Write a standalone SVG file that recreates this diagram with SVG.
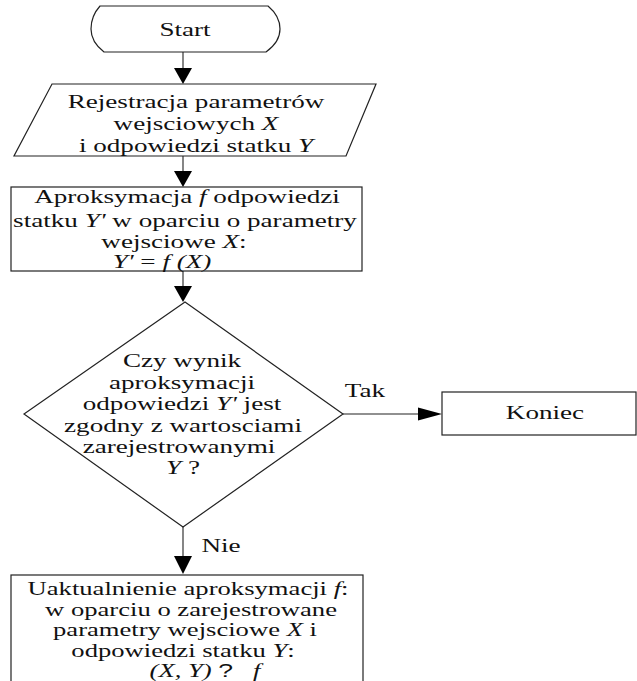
<svg xmlns="http://www.w3.org/2000/svg" width="637" height="681" viewBox="0 0 637 681">
<defs>
<style>
.s{fill:#fff;stroke:#222;stroke-width:1.2}
.c{stroke:#222;stroke-width:1.1;fill:none}
.h{fill:#000}
text{font-family:"Liberation Serif","Times New Roman",serif;font-size:19.5px;fill:#111;text-anchor:middle}
.b{font-size:18.5px}
.i{font-style:italic}
.q{font-family:"Liberation Sans",Arial,sans-serif}
</style>
</defs>
<rect width="637" height="681" fill="#fff"/>
<g id="connectors">
<line class="c" x1="183" y1="52" x2="183" y2="70"/>
<polygon class="h" points="174,68 192,68 183,84"/>
<line class="c" x1="183" y1="156" x2="183" y2="173"/>
<polygon class="h" points="174,171 192,171 183,187"/>
<line class="c" x1="183" y1="271" x2="183" y2="288"/>
<polygon class="h" points="174,286 192,286 183,302"/>
<line class="c" x1="343" y1="414" x2="420" y2="414"/>
<polygon class="h" points="418,407.5 418,420.5 442,414"/>
<line class="c" x1="183" y1="527" x2="183" y2="558"/>
<polygon class="h" points="174,556 192,556 183,574"/>
<text transform="translate(365,397) scale(1.39,1)">Tak</text>
<text transform="translate(221,552) scale(1.39,1)">Nie</text>
</g>
<g id="start">
<path class="s" d="M100,6 L268,6 Q280,16 280,29 Q280,42 266,52 L104,52 Q91,42 91,29 Q91,16 100,6 Z"/>
<text transform="translate(185,36) scale(1.39,1)">Start</text>
</g>
<g id="rejestracja">
<polygon class="s" points="52,84 376,84 346,156 14,156"/>
<text transform="translate(196,108) scale(1.39,1)">Rejestracja parametrów</text>
<text transform="translate(196,130) scale(1.39,1)">wejsciowych <tspan class="i">X</tspan></text>
<text transform="translate(196,152) scale(1.39,1)">i odpowiedzi statku <tspan class="i">Y</tspan></text>
</g>
<g id="aproksymacja">
<rect class="s" x="11" y="187" width="351" height="84"/>
<text transform="translate(187,203) scale(1.39,1)">Aproksymacja <tspan class="i">f</tspan> odpowiedzi</text>
<text transform="translate(185,227) scale(1.39,1)">statku <tspan class="i">Y'</tspan> w oparciu o parametry</text>
<text transform="translate(174,248) scale(1.39,1)">wejsciowe <tspan class="i">X</tspan>:</text>
<text transform="translate(162,268) scale(1.39,1)"><tspan class="i">Y'</tspan> = <tspan class="i">f (X)</tspan></text>
</g>
<g id="decyzja">
<polygon class="s" points="185,302 343,414 183,527 24,414"/>
<text transform="translate(182,367) scale(1.39,1)">Czy wynik</text>
<text transform="translate(182,389) scale(1.39,1)">aproksymacji</text>
<text transform="translate(182,410) scale(1.39,1)">odpowiedzi <tspan class="i">Y'</tspan> jest</text>
<text transform="translate(183,432) scale(1.39,1)">zgodny z wartosciami</text>
<text transform="translate(179,453) scale(1.39,1)">zarejestrowanymi</text>
<text transform="translate(183,474) scale(1.39,1)"><tspan class="i">Y</tspan> ?</text>
</g>
<g id="koniec">
<rect class="s" x="442" y="392" width="194" height="43"/>
<text transform="translate(545,419) scale(1.39,1)">Koniec</text>
</g>
<g id="uaktualnienie">
<rect class="s" x="11" y="575" width="352" height="130"/>
<text class="b" transform="translate(188,595) scale(1.44,1)">Uaktualnienie aproksymacji <tspan class="i">f</tspan>:</text>
<text class="b" transform="translate(191,615.5) scale(1.44,1)">w oparciu o zarejestrowane</text>
<text class="b" transform="translate(185,636) scale(1.44,1)">parametry wejsciowe <tspan class="i">X</tspan>  i</text>
<text class="b" transform="translate(183,656.5) scale(1.44,1)">odpowiedzi statku <tspan class="i">Y</tspan>:</text>
<text class="b" transform="translate(205,677) scale(1.44,1)" xml:space="preserve"><tspan class="i">(X, Y)</tspan> <tspan class="q">?</tspan>   <tspan class="i">f</tspan></text>
</g>
</svg>
